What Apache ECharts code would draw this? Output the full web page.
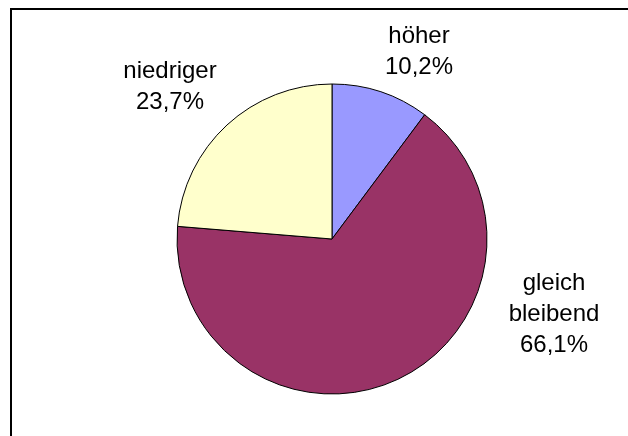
<!DOCTYPE html>
<html>
<head>
<meta charset="utf-8">
<script src="https://cdn.jsdelivr.net/npm/echarts@6/dist/echarts.min.js"></script>
<style>
  html, body { margin: 0; padding: 0; background: #fff; }
  #chart { width: 628px; height: 436px; }
</style>
</head>
<body>
<div id="chart"></div>
<script>
// Werte aus der Vorlage (Prozent)
const names = ['höher', 'gleich\nbleibend', 'niedriger']
const values = [10.2, 66.1, 23.7]
const colors = ['#9999FF', '#993366', '#FFFFCC']
// Label-Mittelpunkte wie im Original (Excel platziert sie frei)
const labelPos = [[419, 52], [554, 314], [170, 87]]

const chart = echarts.init(document.getElementById('chart'))

const option = {
  backgroundColor: '#fff',
  animation: false,
  graphic: [
    {
      type: 'rect',
      shape: { x: 11, y: 9, width: 700, height: 600 },
      style: { fill: 'none', stroke: '#000', lineWidth: 2 }
    }
  ],
  series: [
    {
      type: 'pie',
      center: [332, 239],
      radius: 155,
      startAngle: 90,
      clockwise: true,
      itemStyle: { borderColor: '#000', borderWidth: 1 },
      label: {
        show: true,
        position: 'outside',
        color: '#000',
        fontFamily: 'Liberation Sans, Arial, sans-serif',
        fontSize: 24,
        lineHeight: 31,
        align: 'center',
        formatter: function (p) {
          return p.name + '\n' + p.value.toFixed(1).replace('.', ',') + '%'
        }
      },
      labelLine: { show: false },
      labelLayout: function (params) {
        const p = labelPos[params.dataIndex]
        return { x: p[0], y: p[1], align: 'center', verticalAlign: 'middle' }
      },
      data: values.map(function (v, i) {
        return { name: names[i], value: v, itemStyle: { color: colors[i] } }
      })
    }
  ]
}

chart.setOption(option)
</script>
</body>
</html>
